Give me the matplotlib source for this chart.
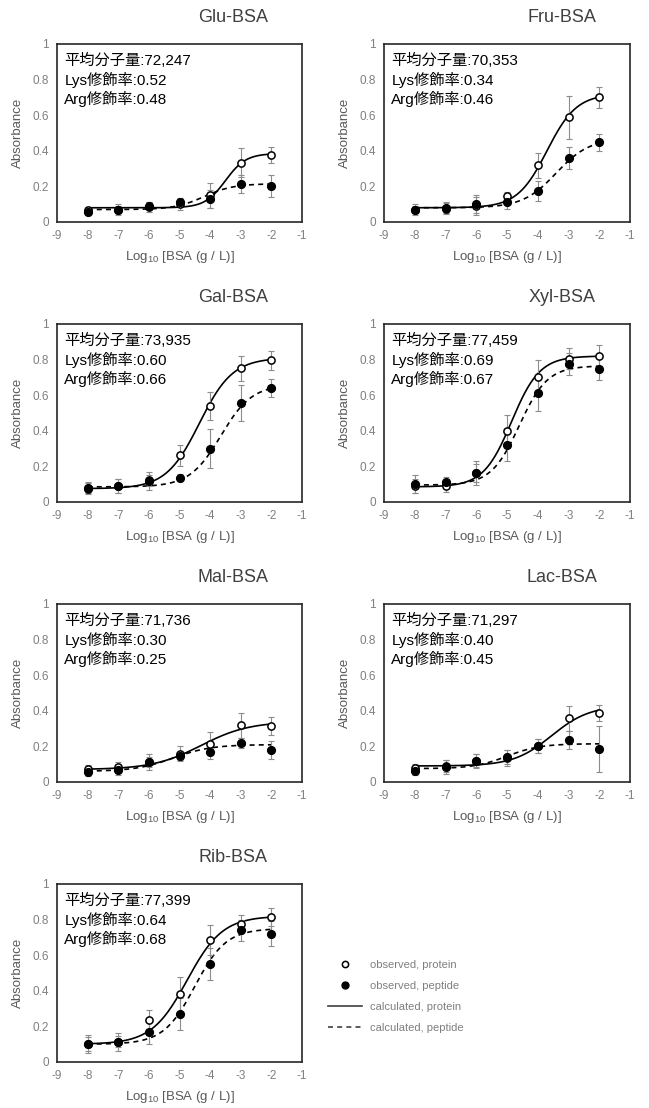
import numpy as np
import matplotlib
matplotlib.use("Agg")
import matplotlib.pyplot as plt
from matplotlib.lines import Line2D

plt.rcParams['font.family'] = ['Liberation Sans', 'Noto Sans CJK JP', 'DejaVu Sans']
plt.rcParams['mathtext.fontset'] = 'custom'
plt.rcParams['mathtext.rm'] = 'Liberation Sans'
plt.rcParams['mathtext.it'] = 'Liberation Sans:italic'
plt.rcParams['mathtext.bf'] = 'Liberation Sans:bold'

# ---------------- data ----------------
log_conc = [-8, -7, -6, -5, -4, -3, -2]
panel_titles = ["Glu-BSA", "Fru-BSA", "Gal-BSA", "Xyl-BSA", "Mal-BSA", "Lac-BSA", "Rib-BSA"]
mol_weight = ["72,247", "70,353", "73,935", "77,459", "71,736", "71,297", "77,399"]
lys_mod = ["0.52", "0.34", "0.60", "0.69", "0.30", "0.40", "0.64"]
arg_mod = ["0.48", "0.46", "0.66", "0.67", "0.25", "0.45", "0.68"]

protein_obs = [
    [0.07, 0.07, 0.085, 0.10, 0.15, 0.333, 0.376],
    [0.07, 0.075, 0.09, 0.145, 0.32, 0.588, 0.70],
    [0.075, 0.088, 0.122, 0.263, 0.54, 0.752, 0.795],
    [0.088, 0.088, 0.163, 0.40, 0.70, 0.806, 0.818],
    [0.075, 0.085, 0.113, 0.16, 0.216, 0.32, 0.316],
    [0.08, 0.09, 0.12, 0.137, 0.203, 0.357, 0.39],
    [0.10, 0.115, 0.235, 0.38, 0.686, 0.775, 0.814],
]
protein_err = [
    [0.015, 0.03, 0.03, 0.03, 0.07, 0.08, 0.045],
    [0.02, 0.03, 0.05, 0.025, 0.07, 0.12, 0.06],
    [0.03, 0.04, 0.03, 0.06, 0.08, 0.07, 0.055],
    [0.04, 0.03, 0.05, 0.09, 0.10, 0.06, 0.065],
    [0.02, 0.03, 0.03, 0.04, 0.065, 0.07, 0.05],
    [0.02, 0.035, 0.035, 0.045, 0.04, 0.07, 0.045],
    [0.04, 0.03, 0.055, 0.10, 0.085, 0.05, 0.05],
]
peptide_obs = [
    [0.056, 0.07, 0.09, 0.113, 0.128, 0.212, 0.203],
    [0.07, 0.08, 0.10, 0.113, 0.173, 0.36, 0.447],
    [0.08, 0.09, 0.12, 0.137, 0.30, 0.555, 0.64],
    [0.10, 0.11, 0.163, 0.323, 0.61, 0.776, 0.748],
    [0.056, 0.07, 0.113, 0.145, 0.17, 0.22, 0.182],
    [0.06, 0.085, 0.117, 0.141, 0.203, 0.235, 0.184],
    [0.10, 0.113, 0.17, 0.27, 0.55, 0.74, 0.72],
]
peptide_err = [
    [0.015, 0.02, 0.02, 0.02, 0.05, 0.05, 0.06],
    [0.03, 0.03, 0.05, 0.04, 0.055, 0.06, 0.05],
    [0.03, 0.04, 0.05, 0.02, 0.11, 0.10, 0.05],
    [0.05, 0.03, 0.065, 0.09, 0.10, 0.06, 0.06],
    [0.02, 0.03, 0.045, 0.02, 0.04, 0.03, 0.05],
    [0.02, 0.04, 0.04, 0.04, 0.04, 0.05, 0.13],
    [0.05, 0.05, 0.07, 0.09, 0.09, 0.06, 0.07],
]
# calculated curves: 4-parameter logistic fit (bottom, top, logEC50, hill)
protein_fit = [
    (0.08, 0.385, -3.5, 1.3),
    (0.08, 0.72, -3.7, 0.9),
    (0.075, 0.81, -4.35, 0.8),
    (0.085, 0.82, -4.85, 0.95),
    (0.07, 0.34, -4.3, 0.55),
    (0.09, 0.43, -3.55, 0.7),
    (0.10, 0.82, -4.75, 0.75),
]
peptide_fit = [
    (0.07, 0.215, -4.2, 0.9),
    (0.08, 0.47, -3.4, 0.8),
    (0.085, 0.66, -3.65, 0.85),
    (0.095, 0.765, -4.6, 0.95),
    (0.06, 0.21, -5.2, 0.7),
    (0.075, 0.215, -5.0, 0.8),
    (0.10, 0.75, -4.5, 0.85),
]
x_ticks = [-9, -8, -7, -6, -5, -4, -3, -2, -1]
y_ticks = [0, 0.2, 0.4, 0.6, 0.8, 1]
y_ticklabels = ["0", "0.2", "0.4", "0.6", "0.8", "1"]
legend_labels = ["observed, protein", "observed, peptide", "calculated, protein", "calculated, peptide"]


def logistic(x, p):
    b, t, c, h = p
    return b + (t - b) / (1.0 + 10 ** ((c - x) * h))


# ---------------- layout ----------------
W, H = 649, 1108
fig = plt.figure(figsize=(W / 100, H / 100), dpi=100)

col_left = [57, 384]
col_width = [245, 246]
row_top = [44, 324, 604, 884]
ax_h = 178
title_cx = [233, 562]

tick_col = '#7f7f7f'
lab_col = '#595959'
DASH = (0, (3, 2.5))

xs = np.linspace(-8, -2, 200)

for i, name in enumerate(panel_titles):
    r, c = divmod(i, 2)
    left, top = col_left[c], row_top[r]
    ax = fig.add_axes([left / W, 1 - (top + ax_h) / H, col_width[c] / W, ax_h / H])
    ax.set_xlim(-9, -1)
    ax.set_ylim(0, 1)

    ax.plot(xs, logistic(xs, protein_fit[i]), color='black', lw=1.2, zorder=2)
    ax.plot(xs, logistic(xs, peptide_fit[i]), color='black', lw=1.2, linestyle=DASH, zorder=2)

    ax.errorbar(log_conc, protein_obs[i], yerr=protein_err[i], fmt='none',
                ecolor='#8c8c8c', elinewidth=0.8, capsize=2.5, capthick=0.8, zorder=3)
    ax.errorbar(log_conc, peptide_obs[i], yerr=peptide_err[i], fmt='none',
                ecolor='#8c8c8c', elinewidth=0.8, capsize=2.5, capthick=0.8, zorder=3)
    ax.plot(log_conc, protein_obs[i], linestyle='none', marker='o', ms=5.2,
            mfc='white', mec='black', mew=1.1, zorder=4)
    ax.plot(log_conc, peptide_obs[i], linestyle='none', marker='o', ms=5.6,
            mfc='black', mec='black', zorder=5)

    ax.set_xticks(x_ticks)
    ax.set_xticklabels([str(v) for v in x_ticks])
    ax.set_yticks(y_ticks)
    ax.set_yticklabels(y_ticklabels)
    ax.tick_params(length=0, labelsize=8.5, labelcolor=tick_col, pad=6)
    for s in ax.spines.values():
        s.set_linewidth(1.2)
        s.set_color('#262626')

    ax.set_ylabel("Absorbance", fontsize=9.5, color=lab_col, labelpad=6)
    ax.set_xlabel("Log$_{10}$ [BSA (g / L)]", fontsize=9.5, color=lab_col, labelpad=5)

    ax.text(0.03, 0.905, "平均分子量:" + mol_weight[i], transform=ax.transAxes,
            fontsize=11, va='center', ha='left', color='black')
    ax.text(0.03, 0.798, "Lys修飾率:" + lys_mod[i], transform=ax.transAxes,
            fontsize=11, va='center', ha='left', color='black')
    ax.text(0.03, 0.691, "Arg修飾率:" + arg_mod[i], transform=ax.transAxes,
            fontsize=11, va='center', ha='left', color='black')

    fig.text(title_cx[c] / W, 1 - (top - 26) / H, name, fontsize=13,
             color='#404040', ha='center', va='center')

handles = [
    Line2D([], [], linestyle='none', marker='o', ms=4.5, mfc='white', mec='black', mew=1.1),
    Line2D([], [], linestyle='none', marker='o', ms=5, mfc='black', mec='black'),
    Line2D([], [], color='#404040', lw=1.2),
    Line2D([], [], color='#404040', lw=1.2, linestyle=DASH),
]
fig.legend(handles, legend_labels, loc='upper left',
           bbox_to_anchor=(328 / W, 1 - 960 / H), frameon=False,
           fontsize=8, labelcolor='#7f7f7f', handlelength=3.1,
           handletextpad=0.65, labelspacing=0.98, borderpad=0, borderaxespad=0)

fig.savefig("out.png", dpi=100)
